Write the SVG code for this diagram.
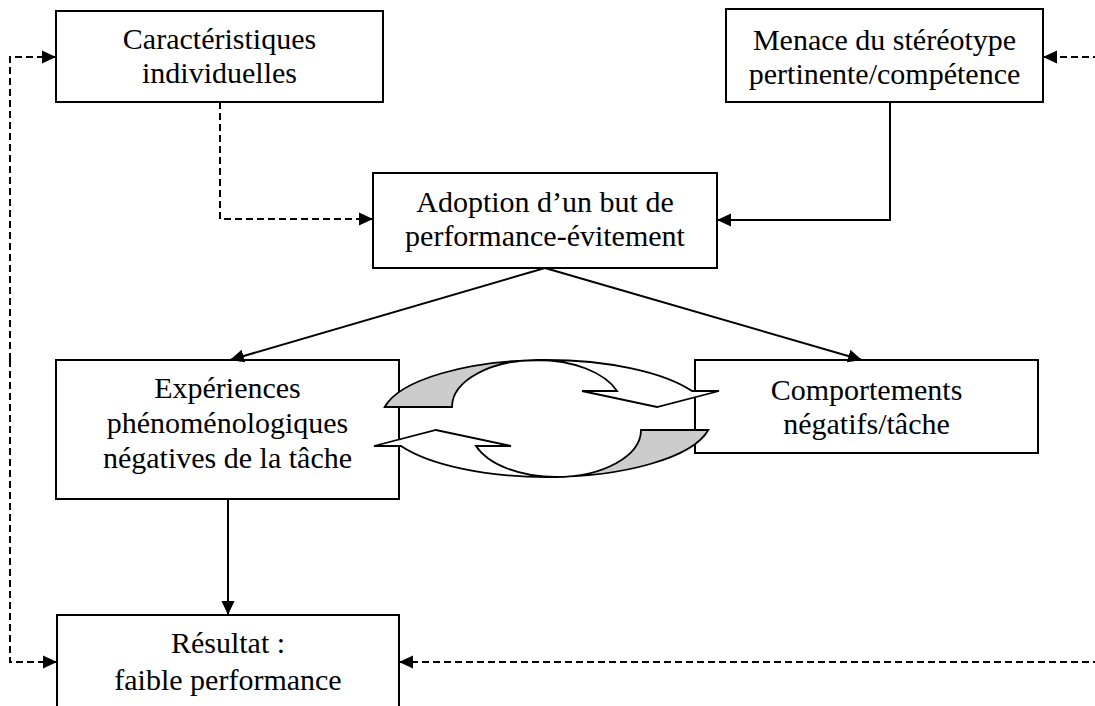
<svg xmlns="http://www.w3.org/2000/svg" width="1095" height="706" viewBox="0 0 1095 706">
<style>
.box{fill:#fff;stroke:#000;stroke-width:2}
.lbl{font-family:"Liberation Serif","Times New Roman",serif;font-size:30px;text-anchor:middle;fill:#000}
.solid{fill:none;stroke:#000;stroke-width:2}
.dash{fill:none;stroke:#000;stroke-width:2;stroke-dasharray:7 4}
.grey{fill:#cccccc;stroke:#000;stroke-width:1.8;stroke-linejoin:miter}
.white{fill:#fff;stroke:#000;stroke-width:1.8;stroke-linejoin:miter}
</style>
<defs>
<marker id="arr" markerUnits="userSpaceOnUse" markerWidth="14" markerHeight="14" refX="14" refY="7" orient="auto">
<path d="M0,0.5 L14,7 L0,13.5 z" fill="#000" stroke="none"/>
</marker>
</defs>
<rect width="1095" height="706" fill="#fff"/>
<g id="n-caract">
<rect class="box" x="56" y="11" width="327" height="91"/>
<text class="lbl" x="219.5" y="49">Caractéristiques</text>
<text class="lbl" x="219.5" y="83">individuelles</text>
</g>
<g id="n-menace">
<rect class="box" x="726" y="9" width="317" height="93"/>
<text class="lbl" x="884.5" y="50">Menace du stéréotype</text>
<text class="lbl" x="884.5" y="84">pertinente/compétence</text>
</g>
<g id="n-adoption">
<rect class="box" x="373" y="173" width="344" height="95"/>
<text class="lbl" x="545" y="212">Adoption d’un but de</text>
<text class="lbl" x="545" y="246">performance-évitement</text>
</g>
<g id="n-experiences">
<rect class="box" x="56" y="360" width="343" height="139"/>
<text class="lbl" x="227.5" y="398">Expériences</text>
<text class="lbl" x="227.5" y="433">phénoménologiques</text>
<text class="lbl" x="227.5" y="468">négatives de la tâche</text>
</g>
<g id="n-comportements">
<rect class="box" x="695" y="360" width="343" height="93"/>
<text class="lbl" x="866.5" y="400">Comportements</text>
<text class="lbl" x="866.5" y="434">négatifs/tâche</text>
</g>
<g id="n-resultat">
<rect class="box" x="57" y="615" width="342" height="110"/>
<text class="lbl" x="228" y="653">Résultat :</text>
<text class="lbl" x="228" y="690">faible performance</text>
</g>
<g id="connectors">
<path class="dash" d="M220,102 V219 H373" marker-end="url(#arr)"/>
<path class="solid" d="M890,102 V220 H717" marker-end="url(#arr)"/>
<path class="solid" d="M545,268 L230,360" marker-end="url(#arr)"/>
<path class="solid" d="M545,268 L862,360" marker-end="url(#arr)"/>
<path class="solid" d="M228,499 V615" marker-end="url(#arr)"/>
<path class="dash" d="M1100,57 H1043" marker-end="url(#arr)"/>
<path class="dash" d="M10,360 V57 H56" marker-end="url(#arr)"/>
<path class="dash" d="M10,360 V662 H57" marker-end="url(#arr)"/>
<path class="dash" d="M1100,662 H399" marker-end="url(#arr)"/>
</g>
<g id="cycle">
<g id="cycle-top">
<path class="grey" d="M384.7,407 A165,58.5 0 0 1 546.5,360 L537,360 A85,47 0 0 0 452,407 Z"/>
<path class="white" d="M537,360 L546.5,360 A165,58.5 0 0 1 692,391 L719,391 L657,407 L582,391 L617,391 A85,47 0 0 0 537,360 Z"/>
</g>
<g id="cycle-bottom" transform="rotate(180 546.5 418.5)">
<path class="grey" d="M384.7,407 A165,58.5 0 0 1 546.5,360 L537,360 A85,47 0 0 0 452,407 Z"/>
<path class="white" d="M537,360 L546.5,360 A165,58.5 0 0 1 692,391 L719,391 L657,407 L582,391 L617,391 A85,47 0 0 0 537,360 Z"/>
</g>
</g>
</svg>
